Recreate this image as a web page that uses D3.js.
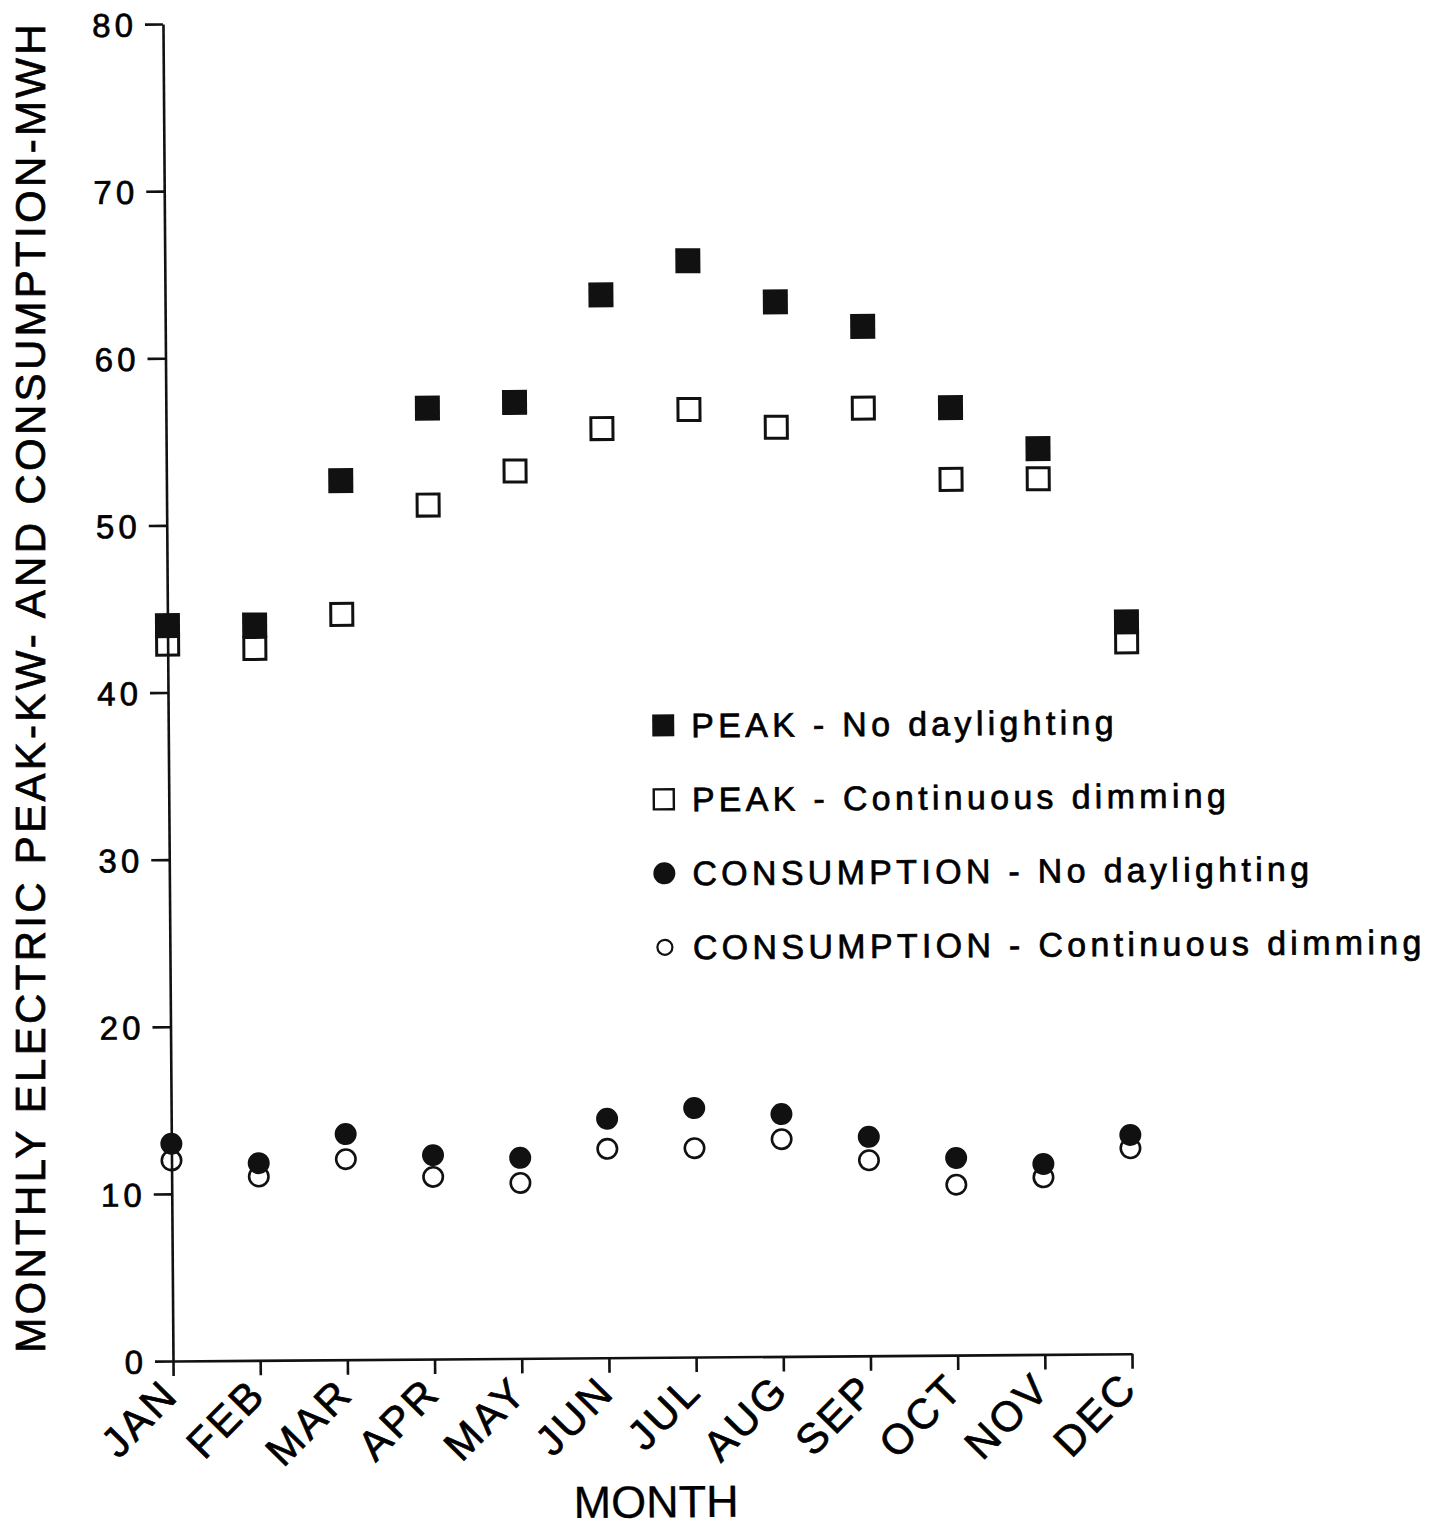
<!DOCTYPE html>
<html>
<head>
<meta charset="utf-8">
<script src="https://cdn.jsdelivr.net/npm/d3@7"></script>
<style>
  html, body { margin: 0; padding: 0; background: #fff; }
  svg { display: block; }
  text { font-family: "Liberation Sans", Arial, Helvetica, sans-serif; fill: #000; stroke: #000; stroke-width: 0.7px; }
</style>
</head>
<body>
<script>
// Monthly electric peak (kW) and consumption (MWh), with and without daylighting
const months = ["JAN", "FEB", "MAR", "APR", "MAY", "JUN", "JUL", "AUG", "SEP", "OCT", "NOV", "DEC"];
const peakNoDaylighting  = [44.0, 44.0, 52.6, 56.9, 57.2, 63.6, 65.6, 63.1, 61.6, 56.7, 54.2, 43.8];
const peakDimming        = [42.9, 42.6, 44.6, 51.1, 53.1, 55.6, 56.7, 55.6, 56.7, 52.4, 52.4, 42.6];
const consNoDaylighting  = [13.0, 11.8, 13.5, 12.2, 12.0, 14.3, 14.9, 14.5, 13.1, 11.8, 11.4, 13.1];
const consDimming        = [12.0, 11.0, 12.0, 10.9, 10.5, 12.5, 12.5, 13.0, 11.7, 10.2, 10.6, 12.3];
const yTicks = [0, 10, 20, 30, 40, 50, 60, 70, 80];
const legendLabels = [
  "PEAK - No daylighting",
  "PEAK - Continuous dimming",
  "CONSUMPTION - No daylighting",
  "CONSUMPTION - Continuous dimming"
];
const yTitle = "MONTHLY ELECTRIC PEAK-KW- AND CONSUMPTION-MWH";
const xTitle = "MONTH";

const W = 1440, H = 1532;
const ink = "#111";

const svg = d3.select("body").append("svg")
  .attr("width", W).attr("height", H);

// vertical axis title
svg.append("text")
  .attr("transform", `translate(45,687) rotate(-90)`)
  .attr("text-anchor", "middle")
  .style("font-size", "42px").style("letter-spacing", "3.3px")
  .text(yTitle);

// plot area sits very slightly skewed on the page
const g = svg.append("g").attr("transform", "rotate(-0.43 173 1361)");

const x = d3.scalePoint().domain(months).range([173, 1132]);
const y = d3.scaleLinear().domain([0, 80]).range([1361, 24]);

// y axis
const yAxis = g.append("g")
  .attr("transform", `translate(${x("JAN")},0)`)
  .call(d3.axisLeft(y).tickValues(yTicks).tickSize(18).tickSizeOuter(0).tickPadding(0));
yAxis.selectAll("path, line").attr("stroke", ink).attr("stroke-width", 2.6);
yAxis.selectAll("text")
  .attr("x", -26).attr("dy", "0.36em")
  .style("font-size", "33px").style("letter-spacing", "4px")
  .attr("text-anchor", "end").attr("fill", "#000");

// x axis
const xAxis = g.append("g")
  .attr("transform", `translate(0,${y(0)})`)
  .call(d3.axisBottom(x).tickSize(15).tickSizeOuter(0).tickPadding(0));
xAxis.selectAll("path, line").attr("stroke", ink).attr("stroke-width", 2.6);
xAxis.selectAll("text")
  .attr("y", 0).attr("dy", 0)
  .attr("text-anchor", "end")
  .attr("transform", "translate(7,36) rotate(-45)")
  .style("font-size", "42px").style("letter-spacing", "3px")
  .attr("fill", "#000");

g.append("text")
  .attr("x", 655).attr("y", 1521)
  .attr("text-anchor", "middle")
  .style("font-size", "45px")
  .style("stroke-width", "0.3px")
  .text(xTitle);

// markers
const sq = 25, cr = 11;
const idx = d3.range(months.length);

g.append("g").selectAll("rect").data(idx).join("rect")
  .attr("x", i => x(months[i]) - sq / 2 + 1.5)
  .attr("y", i => y(peakDimming[i]) - sq / 2 + 1.5)
  .attr("width", sq - 3).attr("height", sq - 3)
  .attr("fill", "none").attr("stroke", ink).attr("stroke-width", 3);

g.append("g").selectAll("rect").data(idx).join("rect")
  .attr("x", i => x(months[i]) - sq / 2)
  .attr("y", i => y(peakNoDaylighting[i]) - sq / 2)
  .attr("width", sq).attr("height", sq)
  .attr("fill", ink);

g.append("g").selectAll("circle").data(idx).join("circle")
  .attr("cx", i => x(months[i]))
  .attr("cy", i => y(consDimming[i]))
  .attr("r", cr - 1.3)
  .attr("fill", "none").attr("stroke", ink).attr("stroke-width", 2.6);

g.append("g").selectAll("circle").data(idx).join("circle")
  .attr("cx", i => x(months[i]))
  .attr("cy", i => y(consNoDaylighting[i]))
  .attr("r", cr)
  .attr("fill", ink);

// legend
const legend = g.append("g").attr("transform", "translate(668,729)");
const rowGap = 74;
legendLabels.forEach((label, i) => {
  const row = legend.append("g").attr("transform", `translate(0,${i * rowGap})`);
  if (i === 0) {
    row.append("rect").attr("x", -11).attr("y", -11).attr("width", 22).attr("height", 22).attr("fill", ink);
  } else if (i === 1) {
    row.append("rect").attr("x", -10).attr("y", -10).attr("width", 20).attr("height", 20)
      .attr("fill", "none").attr("stroke", ink).attr("stroke-width", 2.4);
  } else if (i === 2) {
    row.append("circle").attr("r", 11).attr("fill", ink);
  } else {
    row.append("circle").attr("r", 7.5).attr("fill", "none").attr("stroke", ink).attr("stroke-width", 2.2);
  }
  row.append("text")
    .attr("x", 28).attr("y", 0).attr("dy", "0.36em")
    .style("font-size", "34px").style("letter-spacing", "4.3px")
    .text(label);
});
</script>
</body>
</html>
